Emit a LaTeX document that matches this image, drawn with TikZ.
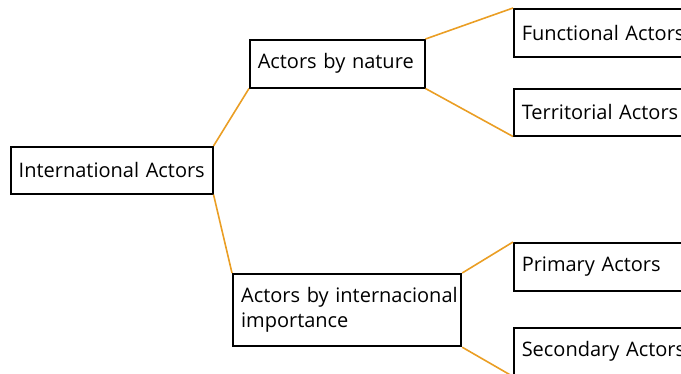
\documentclass[tikz,border=0pt]{standalone}
\usepackage{fontspec}
\setmainfont{Open Sans}
\usepackage{xcolor}
\usepackage{tikz}
\usetikzlibrary{positioning, calc}

\definecolor{linkorange}{RGB}{234,158,36}

\begin{document}
\begin{tikzpicture}[x=1pt, y=-1pt,
        actor/.style={draw, line width=1.5pt, anchor=north west, align=left, inner xsep=8pt, inner ysep=0pt, font=\fontsize{20}{25}\selectfont},
        link/.style={draw=linkorange, line width=1.6pt}]
        \useasboundingbox (0,0) rectangle (681,373);
        \clip (0,0) rectangle (681,373);

        % Draw actor boxes
        \node[actor, minimum width=202pt, minimum height=47pt, text width=186pt] (intl) at (10,146) {\mbox{International Actors}};
        \node[actor, minimum width=175pt, minimum height=48pt, text width=159pt] (nature) at (249,39) {\mbox{Actors by nature}};
        \node[actor, minimum width=228pt, minimum height=72pt, line width=2.2pt, text width=212pt] (importance) at (232,273) {\mbox{Actors by internacional}\\\mbox{importance}};
        \node[actor, minimum width=200pt, minimum height=48pt, text width=184pt] (functional) at (513,8) {\mbox{Functional Actors}};
        \node[actor, minimum width=200pt, minimum height=47pt, text width=184pt] (territorial) at (513,88) {\mbox{Territorial Actors}};
        \node[actor, minimum width=200pt, minimum height=48pt, text width=184pt] (primary) at (513,242) {\mbox{Primary Actors}};
        \node[actor, minimum width=200pt, minimum height=48pt, text width=184pt] (secondary) at (513,327) {\mbox{Secondary Actors}};

        % Draw links
        \draw[link] (intl.north east) -- (nature.south west);
        \draw[link] (intl.south east) -- (importance.north west);
        \draw[link] (nature.north east) -- (functional.north west);
        \draw[link] (nature.south east) -- (territorial.south west);
        \draw[link] (importance.north east) -- (primary.north west);
        \draw[link] (importance.south east) -- (secondary.south west);
    \end{tikzpicture}
\end{document}
